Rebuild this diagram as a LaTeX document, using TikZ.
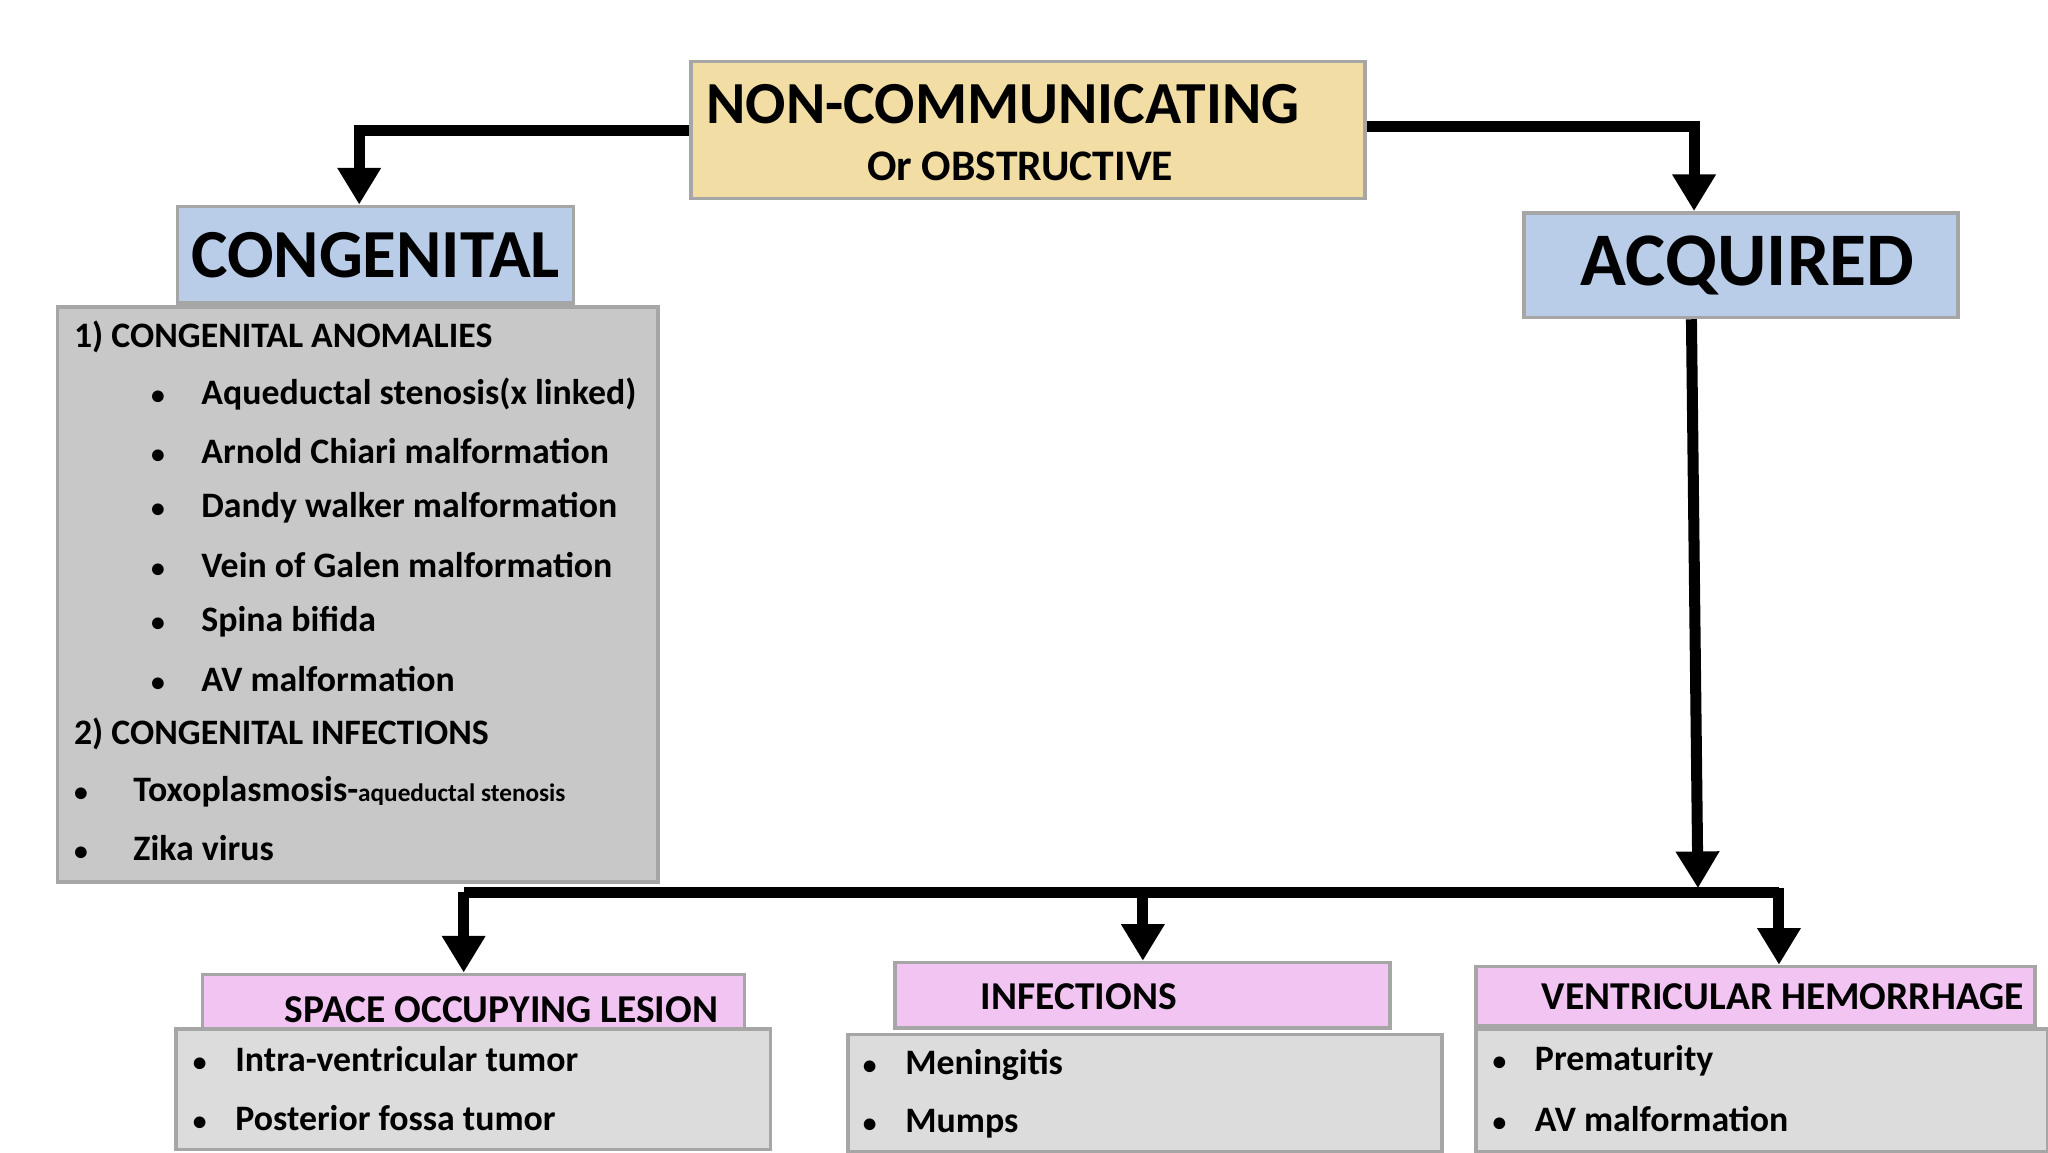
\documentclass[tikz,border=0pt]{standalone}
\usepackage{fontspec}
\setmainfont{Carlito}
\usetikzlibrary{arrows.meta,shadows}
\definecolor{tanfill}{HTML}{F2DDA4}
\definecolor{bluefill}{HTML}{B9CDE8}
\definecolor{grayfill}{HTML}{C8C8C8}
\definecolor{pinkfill}{HTML}{F2C4F2}
\definecolor{lgray}{HTML}{DCDCDC}
\newcommand{\bul}{{\fontsize{6}{7}\selectfont\textbullet}}
\begin{document}
\begin{tikzpicture}[x=1cm,y=-1cm,
  box/.style={draw=gray!70,line width=0.8pt,inner sep=0pt,drop shadow={shadow xshift=0.4pt,shadow yshift=-0.4pt,opacity=0.4}},
  conn/.style={line width=2.4pt,-{Triangle[length=8pt,width=9pt]}},
  bar/.style={line width=2.4pt},
  item/.style={font=\bfseries\fontsize{7.8}{9}\selectfont,anchor=west,inner sep=0pt},
  ttl/.style={font=\bfseries\fontsize{8.6}{10}\selectfont,inner sep=0pt}]
\useasboundingbox (0,0) rectangle (15.68,8.82);
% boxes
\node[box,fill=tanfill,minimum width=5.16cm,minimum height=1.05cm] (top) at (7.87,0.995) {};
\node[font=\bfseries\fontsize{13}{15}\selectfont,inner sep=0pt] (t1) at (7.68,0.80) {NON-COMMUNICATING};
\node[font=\bfseries\fontsize{9.5}{11}\selectfont,inner sep=0pt] (t2) at (7.81,1.27) {Or OBSTRUCTIVE};
\node[box,fill=bluefill,minimum width=3.03cm,minimum height=0.74cm,font=\bfseries\fontsize{15}{17}\selectfont] (cong) at (2.875,1.95) {CONGENITAL};
\node[box,fill=bluefill,minimum width=3.32cm,minimum height=0.80cm,font=\bfseries\fontsize{16.5}{18}\selectfont] (acq) at (13.33,2.03) {\hspace*{0.1cm}ACQUIRED};
\node[box,fill=grayfill,minimum width=4.60cm,minimum height=4.40cm] (list) at (2.74,4.55) {};
% list text
\node[item] (a0) at (0.56,2.58) {1) CONGENITAL ANOMALIES};
\foreach \t [count=\i] in {Aqueductal stenosis(x linked),Arnold Chiari malformation,Dandy walker malformation,Vein of Galen malformation,Spina bifida,AV malformation}{
  \node[item] (b\i) at (1.15,2.585+0.435*\i) {\bul\hspace{0.28cm}\t};}
\node[item] (a1) at (0.56,5.62) {2) CONGENITAL INFECTIONS};
\node[item] (c1) at (0.56,6.06) {\bul\hspace{0.35cm}Toxoplasmosis-{\fontsize{5.5}{7}\selectfont aqueductal stenosis}};
\node[item] (c2) at (0.56,6.49) {\bul\hspace{0.35cm}Zika virus};
% bottom boxes
\node[box,fill=pinkfill,minimum width=4.15cm,minimum height=0.42cm] (sol) at (3.625,7.67) {};
\node[ttl] at (3.84,7.73) {SPACE OCCUPYING LESION};
\node[box,fill=pinkfill,minimum width=3.79cm,minimum height=0.50cm] (inf) at (8.745,7.62) {};
\node[ttl] at (8.26,7.63) {INFECTIONS};
\node[box,fill=pinkfill,minimum width=4.28cm,minimum height=0.45cm] (vh) at (13.44,7.625) {};
\node[ttl] at (13.65,7.63) {VENTRICULAR HEMORRHAGE};
\node[box,fill=lgray,minimum width=4.55cm,minimum height=0.92cm] (g1) at (3.625,8.34) {};
\node[box,fill=lgray,minimum width=4.55cm,minimum height=0.90cm] (g2) at (8.765,8.37) {};
\node[box,fill=lgray,minimum width=4.38cm,minimum height=0.94cm] (g3) at (13.49,8.35) {};
\node[item] at (1.47,8.11) {\bul\hspace{0.22cm}Intra-ventricular tumor};
\node[item] at (1.47,8.56) {\bul\hspace{0.22cm}Posterior fossa tumor};
\node[item] at (6.60,8.15) {\bul\hspace{0.22cm}Meningitis};
\node[item] at (6.60,8.60) {\bul\hspace{0.22cm}Mumps};
\node[item] at (11.42,8.12) {\bul\hspace{0.22cm}Prematurity};
\node[item] at (11.42,8.57) {\bul\hspace{0.22cm}AV malformation};
% connectors
\draw[conn] (top.west|-0,1.00) -| (cong.north-|2.75,0);
\draw[conn] (top.east|-0,0.97) -| (acq.north-|12.97,0);
\draw[conn] (acq.south-|12.95,0) -- (13.00,6.80);
\draw[bar] (3.55,6.83) -- (13.62,6.83);
\draw[conn] (3.55,6.83) -- (sol.north-|3.55,0);
\draw[conn] (8.75,6.83) -- (inf.north-|8.75,0);
\draw[conn] (13.62,6.80) -- (vh.north-|13.62,0);
\end{tikzpicture}
\end{document}
